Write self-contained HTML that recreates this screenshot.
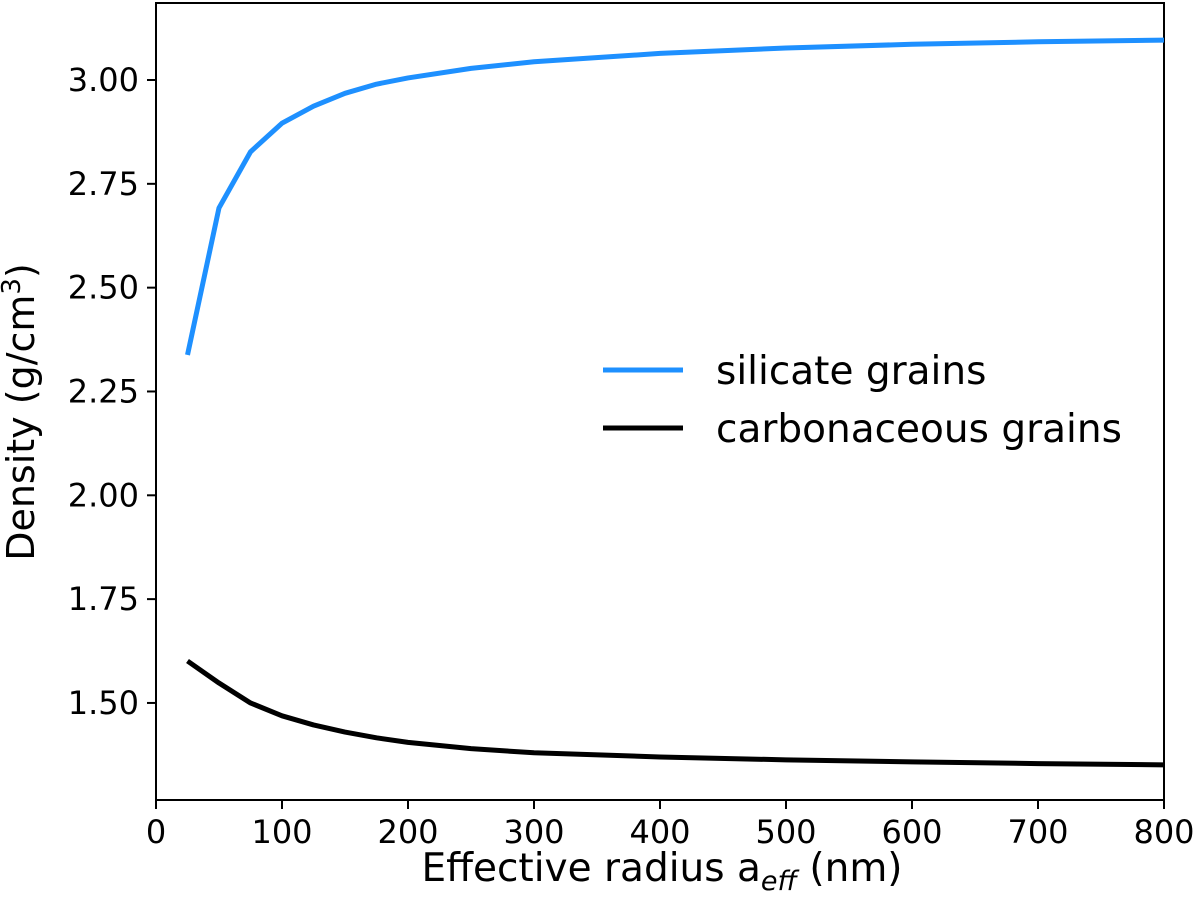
<!DOCTYPE html>
<html><head><meta charset="utf-8"><style>
body{margin:0;background:#fff}
svg{display:block;font-family:"DejaVu Sans","Liberation Sans",sans-serif}
</style></head><body>
<svg id="chart" width="1200" height="897" viewBox="0 0 1200 897" xmlns="http://www.w3.org/2000/svg"></svg>
<script>
const xs = [25,50,75,100,125,150,175,200,250,300,400,500,600,700,800];
const silicate = [2.338,2.692,2.827,2.896,2.937,2.968,2.99,3.005,3.028,3.044,3.064,3.077,3.086,3.092,3.096];
const carbon = [1.601,1.548,1.500,1.469,1.447,1.430,1.416,1.405,1.390,1.380,1.370,1.363,1.358,1.354,1.351];
const xTicks = [0,100,200,300,400,500,600,700,800];
const yTicks = [1.50,1.75,2.00,2.25,2.50,2.75,3.00];
const L=156,R=1164,T=3,B=800;
const X=v=>L+(v-0)*(R-L)/800;
const Y=v=>80+(3-v)*415.3;
const svg=document.getElementById('chart');
const NS='http://www.w3.org/2000/svg';
function el(tag,attrs,parent){const e=document.createElementNS(NS,tag);for(const k in attrs)e.setAttribute(k,attrs[k]);(parent||svg).appendChild(e);return e;}
let frame=el('rect',{x:L,y:T,width:R-L,height:B-T,fill:'none',stroke:'#000','stroke-width':2});


xTicks.forEach(t=>{
  let ln=el('line',{x1:X(t),x2:X(t),y1:B,y2:B+9,stroke:'#000','stroke-width':2});
  
  
  let tx=el('text',{x:X(t),y:B+43,'text-anchor':'middle','font-size':32});
  tx.textContent=t;
  
  
});
yTicks.forEach(t=>{
  let ln=el('line',{x1:L-9,x2:L,y1:Y(t),y2:Y(t),stroke:'#000','stroke-width':2});
  
  
  let tx=el('text',{x:L-17,y:Y(t)+11,'text-anchor':'end','font-size':32});
  tx.textContent=t.toFixed(2);
  
  
});
function line(vals,color,name){
  let p=el('polyline',{points:xs.map((x,i)=>X(x)+','+Y(vals[i])).join(' '),fill:'none',stroke:color,'stroke-width':5,'stroke-linejoin':'round'});
  
  
}
line(silicate,'#1e90ff','silicate-line');
line(carbon,'#000','carbonaceous-line');
</script>
<svg style="position:absolute;left:0;top:0" width="1200" height="897" font-family="DejaVu Sans, Liberation Sans, sans-serif">
<g>
<line x1="603" y1="370" x2="683" y2="370" stroke="#1e90ff" stroke-width="5"/>
<text x="716" y="384" font-size="39">silicate grains</text>
<line x1="603" y1="428" x2="683" y2="428" stroke="#000" stroke-width="5"/>
<text x="716" y="442" font-size="39">carbonaceous grains</text>
</g>
<text x="662" y="881" text-anchor="middle" font-size="39">Effective radius a<tspan font-size="27" font-style="italic" dy="9">eff</tspan><tspan dy="-9"> (nm)</tspan></text>
<text transform="translate(34,412) rotate(-90)" text-anchor="middle" font-size="38">Density (g/cm<tspan font-size="26" dy="-14">3</tspan><tspan dy="14">)</tspan></text>
</svg>
</body></html>
